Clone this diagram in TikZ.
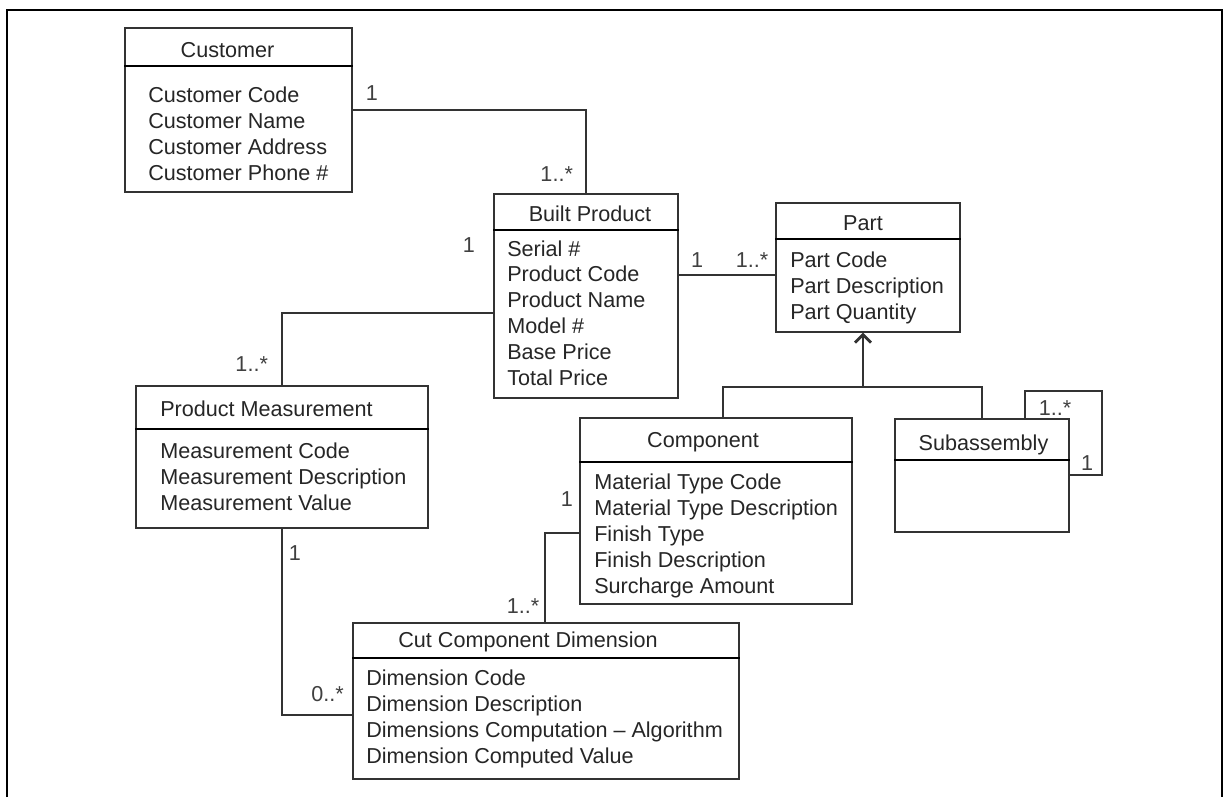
\documentclass[tikz,border=0pt]{standalone}
\usepackage{fontspec}
\setmainfont{Liberation Sans}
\usetikzlibrary{arrows.meta,fit,shadows}

\begin{document}
\begin{tikzpicture}[x=0.75pt,y=-0.75pt,
  umlbox/.style={draw=black!80, line width=1.1pt, fill=white, inner sep=0pt,
    drop shadow={opacity=0.22, shadow xshift=0.8pt, shadow yshift=-0.8pt}},
  divider/.style={draw=black, line width=1.8pt},
  txt/.style={inner sep=0pt, font=\fontsize{16.2}{19}\selectfont, text=black!85},
  title/.style={txt, anchor=base},
  attr/.style={txt, anchor=base west},
  mult/.style={txt, anchor=base, text=black!75},
  link/.style={draw=black!80, line width=1.1pt},
]
\fill[white] (0,0) rectangle (1225,797);
\useasboundingbox (0,0) rectangle (1225,797);

% page frame (open at the bottom)
\draw[line width=2pt] (7,797) -- (7,10) -- (1222,10) -- (1222,797);

% ---------- classes ----------
% Customer
\node[umlbox, fit={(125,28) (352,192)}] (cust) {};
\draw[divider] (cust.west |- 0,66) -- (cust.east |- 0,66);
\node[title] (cust-t) at (227.5,57) {Customer};
\foreach \s [count=\i] in {Customer Code,Customer Name,Customer Address,Customer Phone \#}
  \node[attr] (cust-a\i) at (148,{102+26*(\i-1)}) {\s};

% Built Product
\node[umlbox, fit={(494,194) (678,398)}] (bp) {};
\draw[divider] (bp.west |- 0,230) -- (bp.east |- 0,230);
\node[title] (bp-t) at (590,221) {Built Product};
\foreach \s [count=\i] in {Serial \#,Product Code,Product Name,Model \#,Base Price,Total Price}
  \node[attr] (bp-a\i) at (507,{256+25.8*(\i-1)}) {\s};

% Part
\node[umlbox, fit={(776,203) (960,332)}] (part) {};
\draw[divider] (part.west |- 0,239) -- (part.east |- 0,239);
\node[title] (part-t) at (863,230) {Part};
\foreach \s [count=\i] in {Part Code,Part Description,Part Quantity}
  \node[attr] (part-a\i) at (790,{267.5+26*(\i-1)}) {\s};

% Product Measurement
\node[umlbox, fit={(136,386) (428,528)}] (pm) {};
\draw[divider] (pm.west |- 0,429) -- (pm.east |- 0,429);
\node[attr] (pm-t) at (160,416) {Product Measurement};
\foreach \s [count=\i] in {Measurement Code,Measurement Description,Measurement Value}
  \node[attr] (pm-a\i) at (160,{458.5+26*(\i-1)}) {\s};

% Component
\node[umlbox, fit={(580,418) (852,604)}] (comp) {};
\draw[divider] (comp.west |- 0,462) -- (comp.east |- 0,462);
\node[title] (comp-t) at (703,447) {Component};
\foreach \s [count=\i] in {Material Type Code,Material Type Description,Finish Type,Finish Description,Surcharge Amount}
  \node[attr] (comp-a\i) at (594,{489.3+26.1*(\i-1)}) {\s};

% Subassembly
\node[umlbox, fit={(895,419) (1069,532)}] (sub) {};
\draw[divider] (sub.west |- 0,460) -- (sub.east |- 0,460);
\node[title] (sub-t) at (983.5,450) {Subassembly};

% Cut Component Dimension
\node[umlbox, fit={(353,623) (739,779)}] (ccd) {};
\draw[divider] (ccd.west |- 0,658) -- (ccd.east |- 0,658);
\node[title] (ccd-t) at (528,647) {Cut Component Dimension};
\foreach \s [count=\i] in {Dimension Code,Dimension Description,Dimensions Computation – Algorithm,Dimension Computed Value}
  \node[attr] (ccd-a\i) at (366,{685+26*(\i-1)}) {\s};

% ---------- associations ----------
\draw[link] (cust.east) -| (bp.north);
\draw[link] (bp.west |- 0,313) -| (pm.north);
\draw[link] (bp.east |- 0,275) -- (part.west |- 0,275);
\draw[link] (comp.west |- 0,533) -| (ccd.north -| 545,0);
\draw[link] (pm.south) |- (ccd.west |- 0,715);
\draw[link] (sub.north -| 1025,0) |- (1102,391) |- (sub.east |- 0,475);

% generalization
\coordinate (gen) at (863,387);
\draw[link] (comp.north -| 723,0) |- (gen);
\draw[link] (sub.north) |- (gen);
\draw[link, -{Straight Barb[length=6pt,width=12pt,line width=2pt]}] (gen) -- (part.south -| gen);

% ---------- multiplicities ----------
\node[mult] (m1) at (372,100.7) {1};
\node[mult] (m2) at (556.7,181.7) {1..*};
\node[mult] (m3) at (469,252) {1};
\node[mult] (m4) at (251.7,371.7) {1..*};
\node[mult] (m5) at (697,267) {1};
\node[mult] (m6) at (752,267) {1..*};
\node[mult] (m7) at (295,560) {1};
\node[mult] (m8) at (327.5,701.7) {0..*};
\node[mult] (m9) at (567,506) {1};
\node[mult] (m10) at (523,613) {1..*};
\node[mult] (m11) at (1055,415) {1..*};
\node[mult] (m12) at (1087,470) {1};
\end{tikzpicture}
\end{document}
